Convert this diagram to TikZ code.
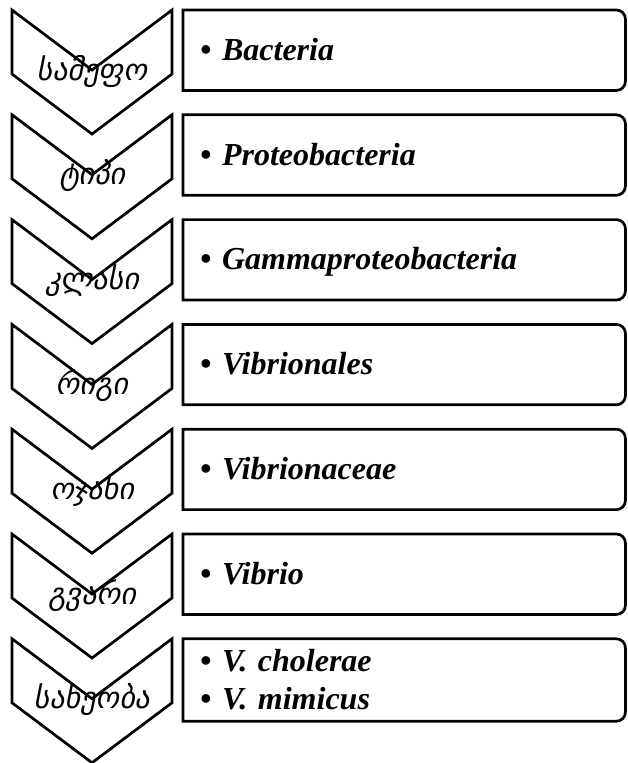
\documentclass[tikz,border=0pt]{standalone}
\usepackage{fontspec}
\setmainfont{Liberation Serif}
\newfontfamily\geofont[FakeSlant=0.2]{DejaVu Sans}

\begin{document}
\begin{tikzpicture}[x=1pt,y=-1pt,
  chev/.style={draw,line width=2.7pt},
  rank/.style={font=\geofont\fontsize{30}{30}\selectfont,inner sep=0pt,anchor=base},
  taxon/.style={minimum width=442pt,minimum height=80pt,text width=408pt,inner xsep=17pt,inner ysep=0pt,
    align=left,anchor=north west,font=\bfseries\itshape\fontsize{32}{38}\selectfont},
  oneline/.style={text height=22pt,text depth=2pt},
  twoline/.style={minimum height=82pt},
  frame/.style={line width=2.7pt}]
  \useasboundingbox (0,0) rectangle (627,763);
  \foreach \i/\geo in {0/სამეფო,1/ტიპი,2/კლასი,3/რიგი,4/ოჯახი,5/გვარი,6/სახეობა}{
    \pgfmathsetmacro\t{10+104.8*\i}
    \draw[chev] (12,\t) -- (92,\t+60) -- (172,\t) -- (172,\t+64) -- (92,\t+124) -- (12,\t+64) -- cycle;
    \node[rank] (g\i) at (92,\t+70) {\geo};
  }
  \foreach \i/\txt/\lines in {0/Bacteria/oneline,1/Proteobacteria/oneline,2/Gammaproteobacteria/oneline,
    3/Vibrionales/oneline,4/Vibrionaceae/oneline,5/Vibrio/oneline,6/{V. cholerae\\\textbullet\ V. mimicus}/twoline}{
    \pgfmathsetmacro\t{10+104.8*\i}
    \node[taxon,\lines] (b\i) at (183,\t) {\textbullet\ \txt};
    \draw[frame] ([xshift=-30pt]b\i.north east) -- (b\i.north west) -- (b\i.south west) -- ([xshift=-30pt]b\i.south east)
      [rounded corners=9pt] ([xshift=-30pt]b\i.south east) -- (b\i.south east) -- (b\i.north east) -- ([xshift=-30pt]b\i.north east);
  }
\end{tikzpicture}
\end{document}
